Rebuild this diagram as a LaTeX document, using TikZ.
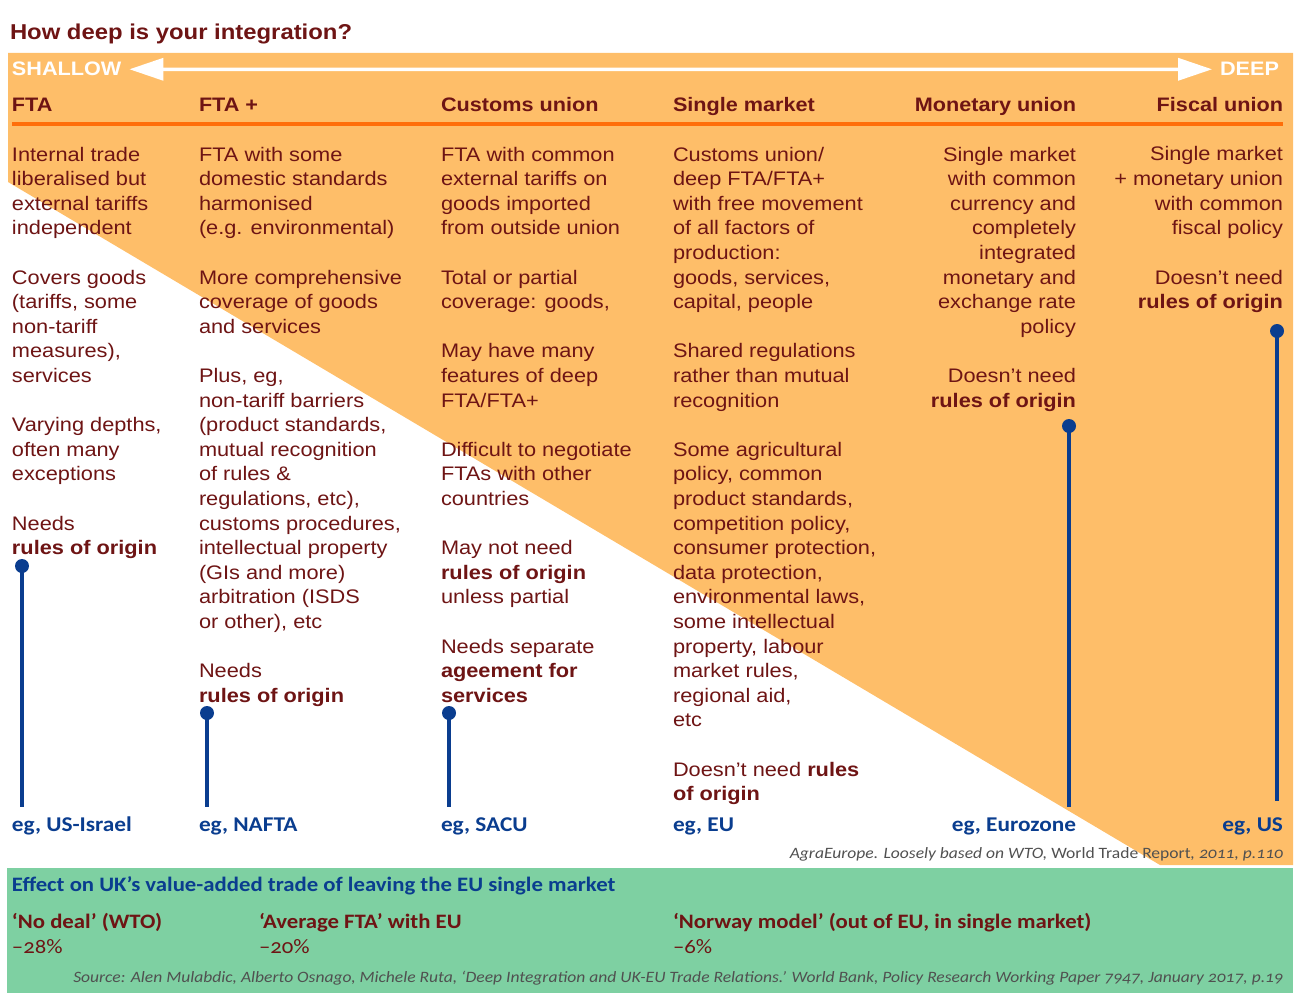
\documentclass[tikz,border=0pt]{standalone}
\usepackage{fontspec}
\setmainfont{Liberation Sans}[FakeStretch=1.11]
\newfontfamily\carlito{Carlito}[FakeStretch=1.11,Numbers=OldStyle]
\usetikzlibrary{arrows.meta, positioning}

\definecolor{deepred}{HTML}{6E1414}
\definecolor{band}{HTML}{FEBE69}
\definecolor{rule}{HTML}{FF6E0A}
\definecolor{egblue}{HTML}{0A3D8F}
\definecolor{effect}{HTML}{7ED0A2}
\definecolor{credit}{HTML}{505050}
\def\lgap{24.6pt}
% fixes the height of a column's first line
\newcommand{\fl}{\rule{0pt}{16pt}}

\begin{document}
\begin{tikzpicture}[x=1pt, y=-1pt, inner sep=0pt, outer sep=0pt]
        \tikzset{body/.style={anchor=north west, align=left, text=deepred, font=\fontsize{19.6}{24.6}\selectfont},
                 bodyr/.style={body, anchor=north east, align=right},
                 head/.style={anchor=base west, text=deepred, font=\fontsize{19.5}{24}\selectfont\bfseries},
                 headr/.style={head, anchor=base east},
                 eg/.style={anchor=base west, text=egblue, font=\carlito\fontsize{21}{24}\selectfont\bfseries},
                 egr/.style={eg, anchor=base east},
                 rodtop/.style={circle, fill=egblue, minimum size=14pt},
                 rod/.style={draw=egblue, line width=4.5pt},
                 option/.style={anchor=base west, align=left, text=deepred, font=\carlito\fontsize{20.5}{25}\selectfont},
                 note/.style={anchor=base east, text=credit, font=\carlito\fontsize{15.8}{18}\selectfont\itshape}}
        \useasboundingbox (0,0) rectangle (1300,1000);

        % orange band with the diagonal cut
        \fill[band] (8,53) -- (1293,53) -- (1293,865) -- (1160,865) -- (8,182) -- cycle;
        \fill[effect] (7,868) rectangle (1293,993);

        \node[anchor=base west, text=deepred, font=\fontsize{21.5}{26}\selectfont\bfseries] (title) at (10,40) {How deep is your integration?};

        \node[head, text=white] (shallow) at (12,76) {SHALLOW};
        \node[headr, text=white] (deep) at (1279,76) {DEEP};
        \draw[white, line width=3.5pt, shorten <=8pt, shorten >=8pt,
              {Triangle[length=34pt,width=22pt]}-{Triangle[length=34pt,width=22pt]}] (shallow.east) -- (deep.west);

        \node[head] (h_1) at (12,112) {FTA};
        \node[head] (h_2) at (199,112) {FTA +};
        \node[head] (h_3) at (441,112) {Customs union};
        \node[head] (h_4) at (673,112) {Single market};
        \node[headr] (h_5) at (1076,112) {Monetary union};
        \node[headr] (h_6) at (1283,112) {Fiscal union};
        \draw[rule, line width=4pt] (12,124) -- (1283,124);

        \node[body] (c_1) at (12,145) {\fl Internal trade\\ liberalised but\\ external tariffs\\ independent\\[\lgap]
            Covers goods\\ (tariffs, some\\ non-tariff\\ measures),\\ services\\[\lgap]
            Varying depths,\\ often many\\ exceptions\\[\lgap]
            Needs\\ \textbf{rules of origin}};
        \node[body] (c_2) at (199,145) {\fl FTA with some\\ domestic standards\\ harmonised\\ (e.g. environmental)\\[\lgap]
            More comprehensive\\ coverage of goods\\ and services\\[\lgap]
            Plus, eg,\\ non-tariff barriers\\ (product standards,\\ mutual recognition\\ of rules \&\\ regulations, etc),\\
            customs procedures,\\ intellectual property\\ (GIs and more)\\ arbitration (ISDS\\ or other), etc\\[\lgap]
            Needs\\ \textbf{rules of origin}};
        \node[body] (c_3) at (441,145) {\fl FTA with common\\ external tariffs on\\ goods imported\\ from outside union\\[\lgap]
            Total or partial\\ coverage: goods,\\[\lgap]
            May have many\\ features of deep\\ FTA/FTA+\\[\lgap]
            Difficult to negotiate\\ FTAs with other\\ countries\\[\lgap]
            May not need\\ \textbf{rules of origin}\\ unless partial\\[\lgap]
            Needs separate\\ \textbf{ageement for}\\ \textbf{services}};
        \node[body] (c_4) at (673,145) {\fl Customs union/\\ deep FTA/FTA+\\ with free movement\\ of all factors of\\ production:\\ goods, services,\\ capital, people\\[\lgap]
            Shared regulations\\ rather than mutual\\ recognition\\[\lgap]
            Some agricultural\\ policy, common\\ product standards,\\ competition policy,\\ consumer protection,\\ data protection,\\
            environmental laws,\\ some intellectual\\ property, labour\\ market rules,\\ regional aid,\\ etc\\[\lgap]
            Doesn’t need \textbf{rules}\\ \textbf{of origin}};
        \node[bodyr] (c_5) at (1076,145) {\fl Single market\\ with common\\ currency and\\ completely\\ integrated\\ monetary and\\ exchange rate\\ policy\\[\lgap]
            Doesn’t need\\ \textbf{rules of origin}};
        \node[bodyr] (c_6) at (1283,145) {\fl Single market\\ + monetary union\\ with common\\ fiscal policy\\[\lgap]
            Doesn’t need\\ \textbf{rules of origin}};

        \node[eg] (eg_1) at (12,831) {eg, US-Israel};
        \node[eg] (eg_2) at (199,831) {eg, NAFTA};
        \node[eg] (eg_3) at (441,831) {eg, SACU};
        \node[eg] (eg_4) at (673,831) {eg, EU};
        \node[egr] (eg_5) at (1076,831) {eg, Eurozone};
        \node[egr] (eg_6) at (1283,831) {eg, US};

        % rods: dot under the rules-of-origin line, down to the example
        \node[rodtop] (d_1) at (22,566) {};
        \node[rodtop] (d_2) at (207,713) {};
        \node[rodtop] (d_3) at (449,713) {};
        \node[rodtop] (d_5) at (1069,426) {};
        \node[rodtop] (d_6) at (1277,331) {};
        \coordinate (e_1) at (22,807);
        \coordinate (e_2) at (207,807);
        \coordinate (e_3) at (449,807);
        \coordinate (e_5) at (1069,807);
        \coordinate (e_6) at (1277,801);
        \foreach \i in {1,2,3,5,6}
            \draw[rod] (d_\i.center) -- (e_\i);

        \node[note] (wto) at (1283,858) {AgraEurope. Loosely based on WTO, {\upshape World Trade Report}, 2011, p.110};

        \node[anchor=base west, text=egblue, font=\carlito\fontsize{20.5}{24}\selectfont\bfseries] (effect) at (12,891) {Effect on UK’s value-added trade of leaving the EU single market};
        \node[option] (s_1) at (12,953) {\textbf{‘No deal’ (WTO)}\\ –28\%};
        \node[option] (s_2) at (259,953) {\textbf{‘Average FTA’ with EU}\\ –20\%};
        \node[option] (s_3) at (673,953) {\textbf{‘Norway model’ (out of EU, in single market)}\\ –6\%};
        \node[note] (source) at (1283,982) {Source: Alen Mulabdic, Alberto Osnago, Michele Ruta, ‘Deep Integration and UK-EU Trade Relations.’ World Bank, Policy Research Working Paper 7947, January 2017, p.19};
\end{tikzpicture}
\end{document}
